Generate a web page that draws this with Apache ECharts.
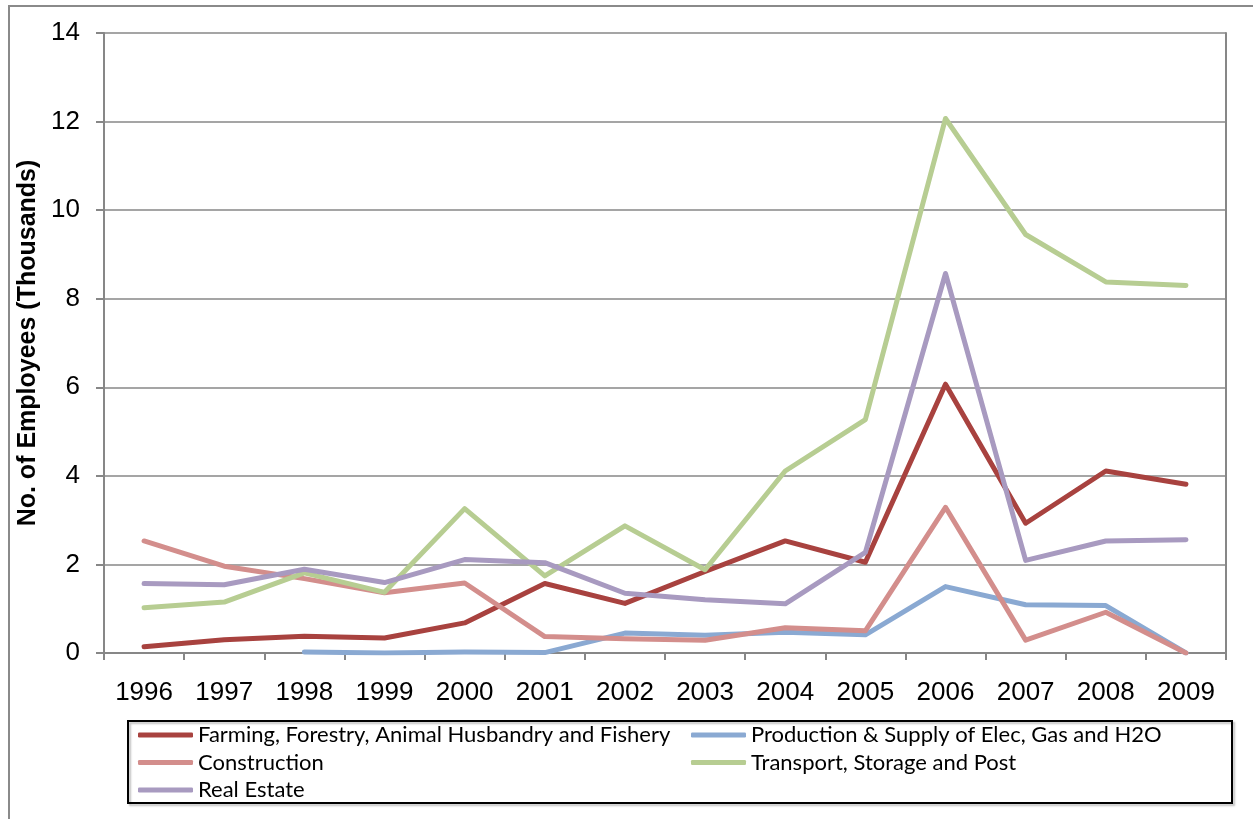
<!DOCTYPE html>
<html>
<head>
<meta charset="utf-8">
<script src="https://cdn.jsdelivr.net/npm/echarts@6/dist/echarts.min.js"></script>
<style>
  html, body { margin: 0; padding: 0; background: #fff; }
  #chart { width: 1253px; height: 819px; }
</style>
</head>
<body>
<div id="chart"></div>
<script>
// years on the category axis
const years = ['1996', '1997', '1998', '1999', '2000', '2001', '2002', '2003', '2004', '2005', '2006', '2007', '2008', '2009']

// thousands of employees
const farming = [0.14, 0.30, 0.38, 0.34, 0.68, 1.57, 1.12, 1.84, 2.53, 2.05, 6.07, 2.93, 4.11, 3.81]
const utilities = [null, null, 0.02, 0.00, 0.02, 0.01, 0.45, 0.40, 0.47, 0.41, 1.50, 1.09, 1.07, 0.00]
const construction = [2.53, 1.96, 1.68, 1.36, 1.58, 0.37, 0.32, 0.29, 0.57, 0.50, 3.29, 0.29, 0.92, 0.00]
const transport = [1.02, 1.15, 1.81, 1.37, 3.26, 1.74, 2.87, 1.88, 4.11, 5.27, 12.07, 9.45, 8.38, 8.30]
const realEstate = [1.57, 1.54, 1.89, 1.59, 2.11, 2.04, 1.35, 1.20, 1.11, 2.27, 8.57, 2.09, 2.53, 2.56]

const yTicks = { min: 0, max: 14, interval: 2 }

const names = {
  farming: 'Farming, Forestry, Animal Husbandry and Fishery',
  utilities: 'Production & Supply of Elec, Gas and H2O',
  construction: 'Construction',
  transport: 'Transport, Storage and Post',
  realEstate: 'Real Estate',
}

const colors = {
  farming: '#A8423F',
  utilities: '#8AA9D2',
  construction: '#D38E8C',
  transport: '#B7CD92',
  realEstate: '#A89AC0',
}

const axisGray = '#878787'
const labelFont = '"Liberation Sans", Arial, sans-serif'
const legendFont = 'Lato, "Open Sans", sans-serif'

function lineSeries(key, data) {
  return {
    name: names[key],
    type: 'line',
    data: data,
    showSymbol: false,
    symbol: 'none',
    connectNulls: false,
    lineStyle: { width: 5, color: colors[key], cap: 'round', join: 'round' },
    itemStyle: { color: colors[key] },
    emphasis: { disabled: true },
  }
}

const legendText = { fontFamily: legendFont, fontSize: 22, lineHeight: 22, color: '#000' }

const chart = echarts.init(document.getElementById('chart'), null, { renderer: 'canvas' })

chart.setOption({
  animation: false,
  backgroundColor: '#fff',
  grid: { left: 104, right: 27, top: 33, bottom: 166, containLabel: false },
  xAxis: {
    type: 'category',
    data: years,
    boundaryGap: true,
    axisLine: { show: true, lineStyle: { color: axisGray, width: 2 } },
    axisTick: { show: true, alignWithLabel: false, length: 7, inside: false, lineStyle: { color: axisGray, width: 2 } },
    axisLabel: { fontFamily: labelFont, fontSize: 26, color: '#000', margin: 27 },
    splitLine: { show: false },
  },
  yAxis: [
    {
      type: 'value',
      min: yTicks.min,
      max: yTicks.max,
      interval: yTicks.interval,
      name: 'No. of Employees (Thousands)',
      nameLocation: 'middle',
      nameGap: 57,
      nameRotate: 90,
      nameTextStyle: { fontFamily: labelFont, fontSize: 25, fontWeight: 'bold', color: '#000' },
      axisLine: { show: true, lineStyle: { color: axisGray, width: 2 } },
      axisTick: { show: true, length: 8, lineStyle: { color: axisGray, width: 2 } },
      axisLabel: { fontFamily: labelFont, fontSize: 26, color: '#000', margin: 24 },
      splitLine: { show: true, lineStyle: { color: axisGray, width: 1.5 } },
    },
    {
      type: 'value',
      position: 'right',
      min: yTicks.min,
      max: yTicks.max,
      interval: yTicks.interval,
      axisLine: { show: true, lineStyle: { color: axisGray, width: 2 } },
      axisTick: { show: false },
      axisLabel: { show: false },
      splitLine: { show: false },
    },
  ],
  legend: [
    {
      left: 138,
      top: 724,
      orient: 'vertical',
      icon: 'roundRect',
      itemWidth: 55,
      itemHeight: 5,
      itemGap: 5.5,
      padding: 0,
      textStyle: legendText,
      data: [names.farming, names.construction, names.realEstate],
      selectedMode: false,
    },
    {
      left: 691,
      top: 724,
      orient: 'vertical',
      icon: 'roundRect',
      itemWidth: 55,
      itemHeight: 5,
      itemGap: 5.5,
      padding: 0,
      textStyle: legendText,
      data: [names.utilities, names.transport],
      selectedMode: false,
    },
  ],
  graphic: [
    {
      type: 'rect',
      silent: true,
      shape: { x: 9, y: 6, width: 1260, height: 830 },
      style: { fill: 'none', stroke: '#8a8a8a', lineWidth: 2 },
    },
    {
      type: 'rect',
      silent: true,
      shape: { x: 128, y: 721, width: 1104, height: 82 },
      style: { fill: 'none', stroke: '#000', lineWidth: 2, shadowColor: 'rgba(0,0,0,0.25)', shadowOffsetX: 2, shadowOffsetY: 2, shadowBlur: 2 },
    },
  ],
  series: [
    lineSeries('farming', farming),
    lineSeries('utilities', utilities),
    lineSeries('construction', construction),
    lineSeries('transport', transport),
    lineSeries('realEstate', realEstate),
  ],
})

window.addEventListener('resize', () => chart.resize())
</script>
</body>
</html>
